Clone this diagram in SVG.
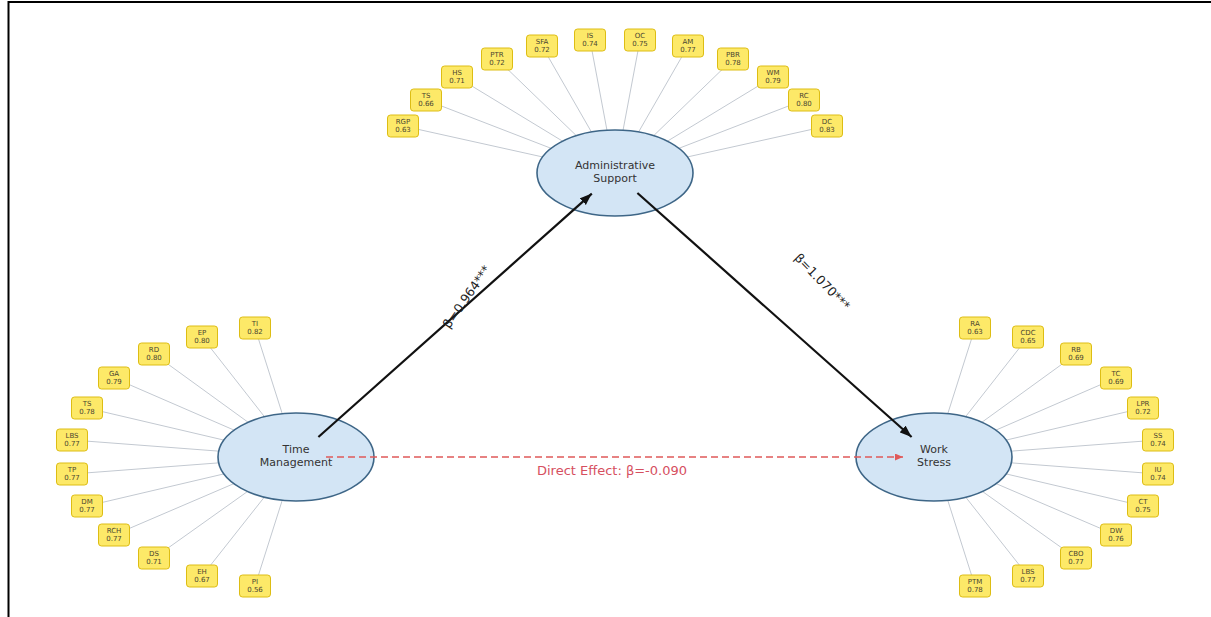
<svg xmlns="http://www.w3.org/2000/svg" width="1211" height="617" viewBox="0 0 1211 617">
<defs>
<style>
.ll{stroke:#c3c9d1;stroke-width:1;fill:none}
.box rect{fill:#fde968;stroke:#ddbd14;stroke-width:1}
.box text{font-family:"DejaVu Sans",sans-serif;font-size:7px;fill:#4a4530;text-anchor:middle}
.node ellipse{fill:#d3e5f5;stroke:#3e6687;stroke-width:1.6}
.node text{font-family:"DejaVu Sans",sans-serif;font-size:11px;fill:#333;text-anchor:middle}
.path{stroke:#111;stroke-width:2.2;fill:none}
.beta{font-family:"DejaVu Sans",sans-serif;font-size:12.5px;fill:#222;text-anchor:middle}
</style>
<marker id="ah" markerUnits="userSpaceOnUse" markerWidth="13" markerHeight="10" refX="12" refY="5" orient="auto"><path d="M0,0.5 L12,5 L0,9.5 z" fill="#111"/></marker>
<marker id="ahr" markerUnits="userSpaceOnUse" markerWidth="9" markerHeight="8" refX="8" refY="3.5" orient="auto"><path d="M0,0 L8,3.5 L0,7 z" fill="#e05a5a"/></marker>
</defs>
<rect x="0" y="0" width="1211" height="617" fill="#fff"/>
<path d="M8.5,617 V2 H1211" stroke="#000" stroke-width="2" fill="none"/>

<g id="connectors">
<g id="loading-lines">
<line class="ll" x1="403" y1="126" x2="615" y2="173"/>
<line class="ll" x1="426" y1="100" x2="615" y2="173"/>
<line class="ll" x1="457" y1="77" x2="615" y2="173"/>
<line class="ll" x1="497" y1="59" x2="615" y2="173"/>
<line class="ll" x1="542" y1="46" x2="615" y2="173"/>
<line class="ll" x1="590" y1="40" x2="615" y2="173"/>
<line class="ll" x1="640" y1="40" x2="615" y2="173"/>
<line class="ll" x1="688" y1="46" x2="615" y2="173"/>
<line class="ll" x1="733" y1="59" x2="615" y2="173"/>
<line class="ll" x1="773" y1="77" x2="615" y2="173"/>
<line class="ll" x1="804" y1="100" x2="615" y2="173"/>
<line class="ll" x1="827" y1="126" x2="615" y2="173"/>

<line class="ll" x1="255" y1="328" x2="296" y2="457"/>
<line class="ll" x1="202" y1="337" x2="296" y2="457"/>
<line class="ll" x1="154" y1="354" x2="296" y2="457"/>
<line class="ll" x1="114" y1="378" x2="296" y2="457"/>
<line class="ll" x1="87" y1="408" x2="296" y2="457"/>
<line class="ll" x1="72" y1="440" x2="296" y2="457"/>
<line class="ll" x1="72" y1="474" x2="296" y2="457"/>
<line class="ll" x1="87" y1="506" x2="296" y2="457"/>
<line class="ll" x1="114" y1="535" x2="296" y2="457"/>
<line class="ll" x1="154" y1="558" x2="296" y2="457"/>
<line class="ll" x1="202" y1="576" x2="296" y2="457"/>
<line class="ll" x1="255" y1="586" x2="296" y2="457"/>

<line class="ll" x1="975" y1="328" x2="934" y2="457"/>
<line class="ll" x1="1028" y1="337" x2="934" y2="457"/>
<line class="ll" x1="1076" y1="354" x2="934" y2="457"/>
<line class="ll" x1="1116" y1="378" x2="934" y2="457"/>
<line class="ll" x1="1143" y1="408" x2="934" y2="457"/>
<line class="ll" x1="1158" y1="440" x2="934" y2="457"/>
<line class="ll" x1="1158" y1="474" x2="934" y2="457"/>
<line class="ll" x1="1143" y1="506" x2="934" y2="457"/>
<line class="ll" x1="1116" y1="535" x2="934" y2="457"/>
<line class="ll" x1="1076" y1="558" x2="934" y2="457"/>
<line class="ll" x1="1028" y1="576" x2="934" y2="457"/>
<line class="ll" x1="975" y1="586" x2="934" y2="457"/>
</g>
</g>

<g id="node-admin-support" class="node"><ellipse cx="615" cy="173" rx="78" ry="43"/><text x="615" y="169">Administrative</text><text x="615" y="182">Support</text></g>
<g id="node-time-management" class="node"><ellipse cx="296" cy="457" rx="78" ry="44"/><text x="296" y="453">Time</text><text x="296" y="466">Management</text></g>
<g id="node-work-stress" class="node"><ellipse cx="934" cy="457" rx="78" ry="44"/><text x="934" y="453">Work</text><text x="934" y="466">Stress</text></g>

<g id="ind-as-RGP" class="box"><rect x="387.5" y="115" width="31" height="22" rx="3"/><text x="403" y="124">RGP</text><text x="403" y="132">0.63</text></g>
<g id="ind-as-TS" class="box"><rect x="410.5" y="89" width="31" height="22" rx="3"/><text x="426" y="98">TS</text><text x="426" y="106">0.66</text></g>
<g id="ind-as-HS" class="box"><rect x="441.5" y="66" width="31" height="22" rx="3"/><text x="457" y="75">HS</text><text x="457" y="83">0.71</text></g>
<g id="ind-as-PTR" class="box"><rect x="481.5" y="48" width="31" height="22" rx="3"/><text x="497" y="57">PTR</text><text x="497" y="65">0.72</text></g>
<g id="ind-as-SFA" class="box"><rect x="526.5" y="35" width="31" height="22" rx="3"/><text x="542" y="44">SFA</text><text x="542" y="52">0.72</text></g>
<g id="ind-as-IS" class="box"><rect x="574.5" y="29" width="31" height="22" rx="3"/><text x="590" y="38">IS</text><text x="590" y="46">0.74</text></g>
<g id="ind-as-OC" class="box"><rect x="624.5" y="29" width="31" height="22" rx="3"/><text x="640" y="38">OC</text><text x="640" y="46">0.75</text></g>
<g id="ind-as-AM" class="box"><rect x="672.5" y="35" width="31" height="22" rx="3"/><text x="688" y="44">AM</text><text x="688" y="52">0.77</text></g>
<g id="ind-as-PBR" class="box"><rect x="717.5" y="48" width="31" height="22" rx="3"/><text x="733" y="57">PBR</text><text x="733" y="65">0.78</text></g>
<g id="ind-as-WM" class="box"><rect x="757.5" y="66" width="31" height="22" rx="3"/><text x="773" y="75">WM</text><text x="773" y="83">0.79</text></g>
<g id="ind-as-RC" class="box"><rect x="788.5" y="89" width="31" height="22" rx="3"/><text x="804" y="98">RC</text><text x="804" y="106">0.80</text></g>
<g id="ind-as-DC" class="box"><rect x="811.5" y="115" width="31" height="22" rx="3"/><text x="827" y="124">DC</text><text x="827" y="132">0.83</text></g>

<g id="ind-tm-TI" class="box"><rect x="239.5" y="317" width="31" height="22" rx="3"/><text x="255" y="326">TI</text><text x="255" y="334">0.82</text></g>
<g id="ind-tm-EP" class="box"><rect x="186.5" y="326" width="31" height="22" rx="3"/><text x="202" y="335">EP</text><text x="202" y="343">0.80</text></g>
<g id="ind-tm-RD" class="box"><rect x="138.5" y="343" width="31" height="22" rx="3"/><text x="154" y="352">RD</text><text x="154" y="360">0.80</text></g>
<g id="ind-tm-GA" class="box"><rect x="98.5" y="367" width="31" height="22" rx="3"/><text x="114" y="376">GA</text><text x="114" y="384">0.79</text></g>
<g id="ind-tm-TS" class="box"><rect x="71.5" y="397" width="31" height="22" rx="3"/><text x="87" y="406">TS</text><text x="87" y="414">0.78</text></g>
<g id="ind-tm-LBS" class="box"><rect x="56.5" y="429" width="31" height="22" rx="3"/><text x="72" y="438">LBS</text><text x="72" y="446">0.77</text></g>
<g id="ind-tm-TP" class="box"><rect x="56.5" y="463" width="31" height="22" rx="3"/><text x="72" y="472">TP</text><text x="72" y="480">0.77</text></g>
<g id="ind-tm-DM" class="box"><rect x="71.5" y="495" width="31" height="22" rx="3"/><text x="87" y="504">DM</text><text x="87" y="512">0.77</text></g>
<g id="ind-tm-RCH" class="box"><rect x="98.5" y="524" width="31" height="22" rx="3"/><text x="114" y="533">RCH</text><text x="114" y="541">0.77</text></g>
<g id="ind-tm-DS" class="box"><rect x="138.5" y="547" width="31" height="22" rx="3"/><text x="154" y="556">DS</text><text x="154" y="564">0.71</text></g>
<g id="ind-tm-EH" class="box"><rect x="186.5" y="565" width="31" height="22" rx="3"/><text x="202" y="574">EH</text><text x="202" y="582">0.67</text></g>
<g id="ind-tm-PI" class="box"><rect x="239.5" y="575" width="31" height="22" rx="3"/><text x="255" y="584">PI</text><text x="255" y="592">0.56</text></g>

<g id="ind-ws-RA" class="box"><rect x="959.5" y="317" width="31" height="22" rx="3"/><text x="975" y="326">RA</text><text x="975" y="334">0.63</text></g>
<g id="ind-ws-CDC" class="box"><rect x="1012.5" y="326" width="31" height="22" rx="3"/><text x="1028" y="335">CDC</text><text x="1028" y="343">0.65</text></g>
<g id="ind-ws-RB" class="box"><rect x="1060.5" y="343" width="31" height="22" rx="3"/><text x="1076" y="352">RB</text><text x="1076" y="360">0.69</text></g>
<g id="ind-ws-TC" class="box"><rect x="1100.5" y="367" width="31" height="22" rx="3"/><text x="1116" y="376">TC</text><text x="1116" y="384">0.69</text></g>
<g id="ind-ws-LPR" class="box"><rect x="1127.5" y="397" width="31" height="22" rx="3"/><text x="1143" y="406">LPR</text><text x="1143" y="414">0.72</text></g>
<g id="ind-ws-SS" class="box"><rect x="1142.5" y="429" width="31" height="22" rx="3"/><text x="1158" y="438">SS</text><text x="1158" y="446">0.74</text></g>
<g id="ind-ws-IU" class="box"><rect x="1142.5" y="463" width="31" height="22" rx="3"/><text x="1158" y="472">IU</text><text x="1158" y="480">0.74</text></g>
<g id="ind-ws-CT" class="box"><rect x="1127.5" y="495" width="31" height="22" rx="3"/><text x="1143" y="504">CT</text><text x="1143" y="512">0.75</text></g>
<g id="ind-ws-DW" class="box"><rect x="1100.5" y="524" width="31" height="22" rx="3"/><text x="1116" y="533">DW</text><text x="1116" y="541">0.76</text></g>
<g id="ind-ws-CBO" class="box"><rect x="1060.5" y="547" width="31" height="22" rx="3"/><text x="1076" y="556">CBO</text><text x="1076" y="564">0.77</text></g>
<g id="ind-ws-LBS" class="box"><rect x="1012.5" y="565" width="31" height="22" rx="3"/><text x="1028" y="574">LBS</text><text x="1028" y="582">0.77</text></g>
<g id="ind-ws-PTM" class="box"><rect x="959.5" y="575" width="31" height="22" rx="3"/><text x="975" y="584">PTM</text><text x="975" y="592">0.78</text></g>

<g id="connectors-paths">
<line class="path" x1="318.4" y1="437" x2="591.8" y2="193.6" marker-end="url(#ah)"/>
<line class="path" x1="637.4" y1="193" x2="911.6" y2="437" marker-end="url(#ah)"/>
<line x1="326" y1="457" x2="903" y2="457" stroke="#e05a5a" stroke-width="1.4" stroke-dasharray="7,4" marker-end="url(#ahr)"/>
<text class="beta" transform="translate(467,297) rotate(-55)" dy="4">β=0.964***</text>
<text class="beta" transform="translate(822,282) rotate(46)" dy="4">β=1.070***</text>
<text x="612" y="475" font-family="DejaVu Sans, sans-serif" font-size="13px" fill="#d64f5f" text-anchor="middle">Direct Effect: β=-0.090</text>
</g>
</svg>
